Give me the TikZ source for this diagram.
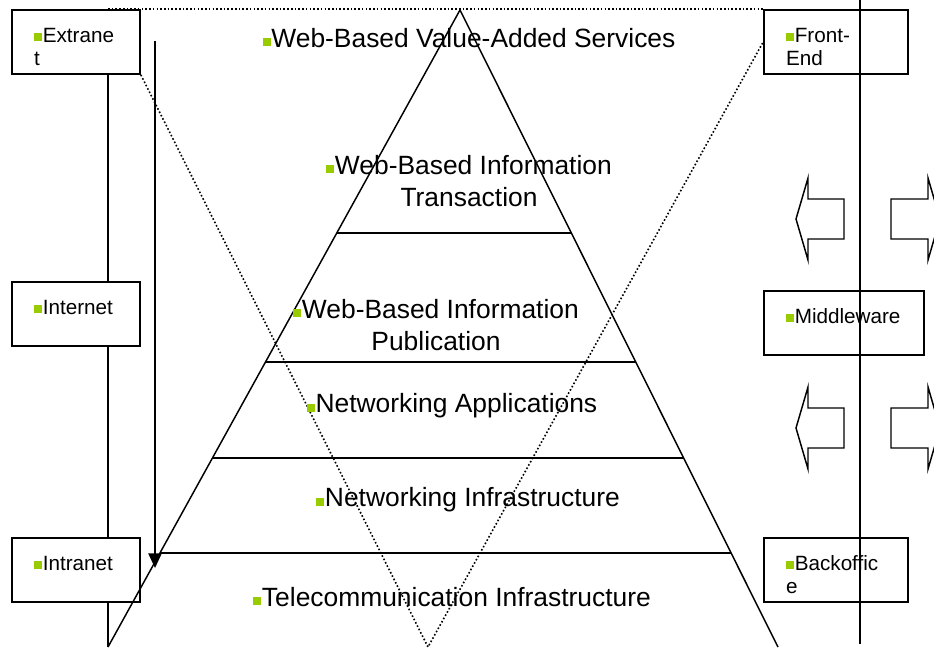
\documentclass[tikz,border=0pt]{standalone}
\usepackage{fontspec}
\setmainfont{Liberation Sans}
\usepackage{tikz}
\usetikzlibrary{
        arrows.meta,
        calc,
        positioning
    }
\definecolor{leafgreen}{RGB}{153,204,0}
\newcommand{\gbul}{\textcolor{leafgreen}{\rule[1pt]{6pt}{6pt}}\kern0.6pt\relax}
\newcommand{\nohyph}{\hyphenpenalty=10000\relax}
\tikzset{
        tier/.style={font=\fontsize{19.8}{24}\selectfont,align=center,inner sep=0pt},
        zone/.style={draw,fill=white,line width=1.3pt,minimum width=96pt,minimum height=48pt,
                inner xsep=16.5pt,text width=63pt,align=left,text height=10pt,text depth=10pt,
                font=\fontsize{15.5}{17.5}\selectfont\nohyph},
        wide/.style={minimum width=108pt,text width=75pt},
        wider/.style={minimum width=120pt,text width=87pt},
        rail/.style={line width=1.1pt},
        fence/.style={line width=1.2pt,dash pattern=on 1.2pt off 1.6pt},
        flow/.style={line width=1.1pt,line join=miter}
    }
\begin{document}
\begin{tikzpicture}[x=0.75pt,y=-0.75pt]
\useasboundingbox (0,0) rectangle (934,647);
		\coordinate (apex) at (460,10);
		\coordinate (bl) at (108,647);
		\coordinate (br) at (778,647);
		\coordinate (vtip) at (428,647);
		\coordinate (atop) at (155,41);
		\coordinate (abot) at (155,568);
		\coordinate (rtop) at (860,0);
		\coordinate (rbot) at (860,644);
		\coordinate (ltop) at (108,74);
		\draw[rail] (ltop) -- (bl);
		\node[zone] (extranet) at (76,42) {\gbul Extrane\\t};
		\node[zone] (internet) at (76,314) {\gbul Internet};
		\node[zone] (intranet) at (76,570) {\gbul Intranet};
		\node[zone,wide] (frontend) at (836,42) {\gbul Front-\\End};
		\node[zone,wider] (middleware) at (844,323) {\gbul Middleware};
		\node[zone,wide] (backoffice) at (836,570) {\gbul Backoffic\\e};
		\draw[fence] (extranet.north -| bl) -- (frontend.north west);
		\draw[fence] (extranet.south east) -- (vtip) -- (frontend.west);
		\draw[rail] (bl) -- (apex) -- (br);
		\foreach \t in {0.350,0.5526,0.7033,0.8524}
			\draw[rail] ($(apex)!\t!(bl)$) -- ($(apex)!\t!(br)$);
		\draw[rail,-{Triangle[length=11pt,width=10pt]}] (atop) -- (abot);
		\draw[rail] (rtop) -- (rbot);
		\foreach \dy in {0,209}
			{
			\draw[flow] (796,219+\dy) -- (808,178+\dy) -- (808,199+\dy) -- (844,199+\dy)
				-- (844,239+\dy) -- (808,239+\dy) -- (808,260+\dy) -- cycle;
			\draw[flow] (940,219+\dy) -- (928,178+\dy) -- (928,199+\dy) -- (891,199+\dy)
				-- (891,239+\dy) -- (928,239+\dy) -- (928,260+\dy) -- cycle;
			}
		\node[tier] (services) at (469,38) {\gbul Web-Based Value-Added Services};
		\node[tier] (transaction) at (469,181) {\gbul Web-Based Information\\Transaction};
		\node[tier] (publication) at (436,325) {\gbul Web-Based Information\\Publication};
		\node[tier] (applications) at (452,406) {\gbul Networking Applications};
		\node[tier] (infrastructure) at (468,500) {\gbul Networking Infrastructure};
		\node[tier] (telecom) at (452,597) {\gbul Telecommunication Infrastructure};
\end{tikzpicture}
\end{document}
